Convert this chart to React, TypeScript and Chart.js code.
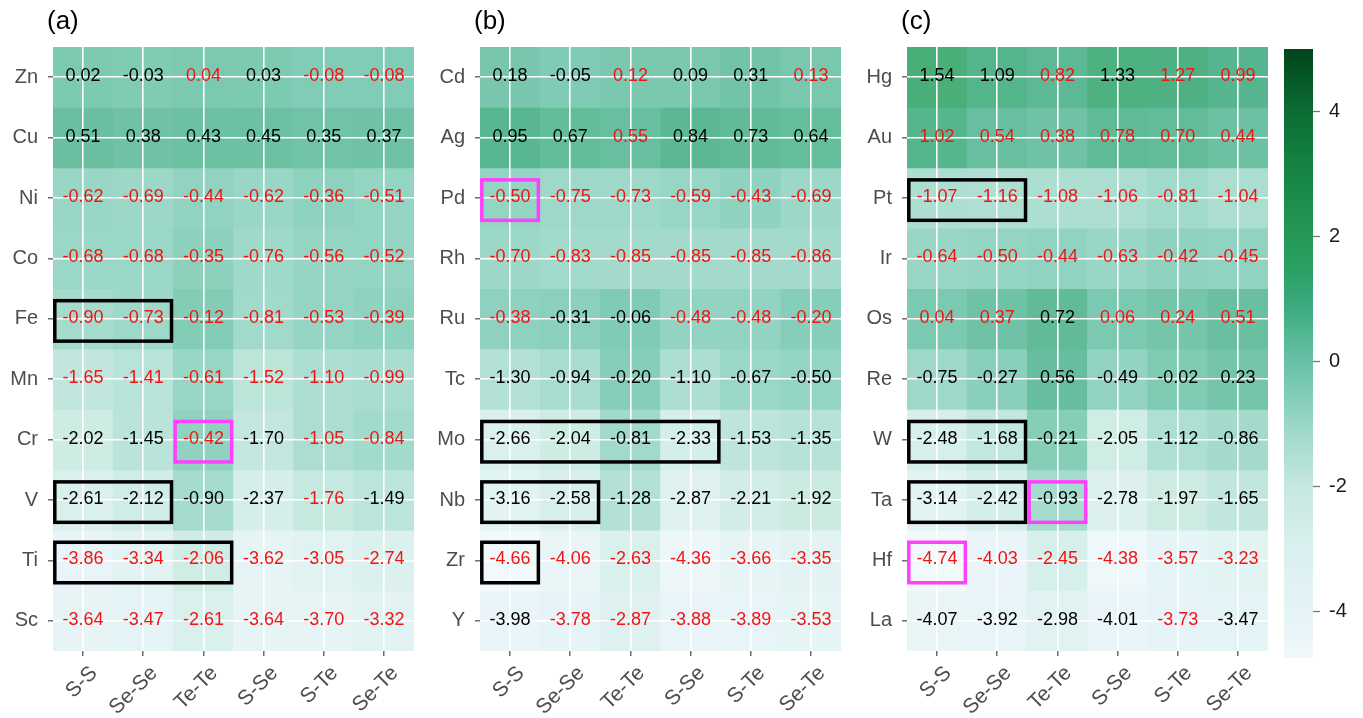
import { useEffect, useRef } from 'react';
import { Chart, registerables } from 'chart.js';

Chart.register(...registerables);
Chart.defaults.font.family = "'Liberation Sans', Arial, Helvetica, sans-serif";

// ---- data -------------------------------------------------------------
const pairs = ['S-S', 'Se-Se', 'Te-Te', 'S-Se', 'S-Te', 'Se-Te'];

const metals3d = ['Zn', 'Cu', 'Ni', 'Co', 'Fe', 'Mn', 'Cr', 'V', 'Ti', 'Sc'];
const values3d = [
  [0.02, -0.03, 0.04, 0.03, -0.08, -0.08],
  [0.51, 0.38, 0.43, 0.45, 0.35, 0.37],
  [-0.62, -0.69, -0.44, -0.62, -0.36, -0.51],
  [-0.68, -0.68, -0.35, -0.76, -0.56, -0.52],
  [-0.9, -0.73, -0.12, -0.81, -0.53, -0.39],
  [-1.65, -1.41, -0.61, -1.52, -1.1, -0.99],
  [-2.02, -1.45, -0.42, -1.7, -1.05, -0.84],
  [-2.61, -2.12, -0.9, -2.37, -1.76, -1.49],
  [-3.86, -3.34, -2.06, -3.62, -3.05, -2.74],
  [-3.64, -3.47, -2.61, -3.64, -3.7, -3.32],
];
// 1 = value printed in red
const red3d = [
  [0, 0, 1, 0, 1, 1],
  [0, 0, 0, 0, 0, 0],
  [1, 1, 1, 1, 1, 1],
  [1, 1, 1, 1, 1, 1],
  [1, 1, 1, 1, 1, 1],
  [1, 1, 1, 1, 1, 1],
  [0, 0, 1, 0, 1, 1],
  [0, 0, 0, 0, 1, 0],
  [1, 1, 1, 1, 1, 1],
  [1, 1, 1, 1, 1, 1],
];

const metals4d = ['Cd', 'Ag', 'Pd', 'Rh', 'Ru', 'Tc', 'Mo', 'Nb', 'Zr', 'Y'];
const values4d = [
  [0.18, -0.05, 0.12, 0.09, 0.31, 0.13],
  [0.95, 0.67, 0.55, 0.84, 0.73, 0.64],
  [-0.5, -0.75, -0.73, -0.59, -0.43, -0.69],
  [-0.7, -0.83, -0.85, -0.85, -0.85, -0.86],
  [-0.38, -0.31, -0.06, -0.48, -0.48, -0.2],
  [-1.3, -0.94, -0.2, -1.1, -0.67, -0.5],
  [-2.66, -2.04, -0.81, -2.33, -1.53, -1.35],
  [-3.16, -2.58, -1.28, -2.87, -2.21, -1.92],
  [-4.66, -4.06, -2.63, -4.36, -3.66, -3.35],
  [-3.98, -3.78, -2.87, -3.88, -3.89, -3.53],
];
const red4d = [
  [0, 0, 1, 0, 0, 1],
  [0, 0, 1, 0, 0, 0],
  [1, 1, 1, 1, 1, 1],
  [1, 1, 1, 1, 1, 1],
  [1, 0, 0, 1, 1, 1],
  [0, 0, 0, 0, 0, 0],
  [0, 0, 0, 0, 0, 0],
  [0, 0, 0, 0, 0, 0],
  [1, 1, 1, 1, 1, 1],
  [0, 1, 1, 1, 1, 1],
];

const metals5d = ['Hg', 'Au', 'Pt', 'Ir', 'Os', 'Re', 'W', 'Ta', 'Hf', 'La'];
const values5d = [
  [1.54, 1.09, 0.82, 1.33, 1.27, 0.99],
  [1.02, 0.54, 0.38, 0.78, 0.7, 0.44],
  [-1.07, -1.16, -1.08, -1.06, -0.81, -1.04],
  [-0.64, -0.5, -0.44, -0.63, -0.42, -0.45],
  [0.04, 0.37, 0.72, 0.06, 0.24, 0.51],
  [-0.75, -0.27, 0.56, -0.49, -0.02, 0.23],
  [-2.48, -1.68, -0.21, -2.05, -1.12, -0.86],
  [-3.14, -2.42, -0.93, -2.78, -1.97, -1.65],
  [-4.74, -4.03, -2.45, -4.38, -3.57, -3.23],
  [-4.07, -3.92, -2.98, -4.01, -3.73, -3.47],
];
const red5d = [
  [0, 0, 1, 0, 1, 1],
  [1, 1, 1, 1, 1, 1],
  [1, 1, 1, 1, 1, 1],
  [1, 1, 1, 1, 1, 1],
  [1, 1, 0, 1, 1, 1],
  [0, 0, 0, 0, 0, 0],
  [0, 0, 0, 0, 0, 0],
  [0, 0, 0, 0, 0, 0],
  [1, 1, 1, 1, 1, 1],
  [0, 0, 0, 0, 1, 0],
];

// Highlighted cells: row index, first and last pair index, frame colour
type Frame = { row: number; first: number; last: number; color: string };
const BLACK = '#000000';
const MAGENTA = '#ff40ff';
const frames3d: Frame[] = [
  { row: 4, first: 0, last: 1, color: BLACK },
  { row: 7, first: 0, last: 1, color: BLACK },
  { row: 8, first: 0, last: 2, color: BLACK },
  { row: 6, first: 2, last: 2, color: MAGENTA },
];
const frames4d: Frame[] = [
  { row: 6, first: 0, last: 3, color: BLACK },
  { row: 7, first: 0, last: 1, color: BLACK },
  { row: 8, first: 0, last: 0, color: BLACK },
  { row: 2, first: 0, last: 0, color: MAGENTA },
];
const frames5d: Frame[] = [
  { row: 2, first: 0, last: 1, color: BLACK },
  { row: 6, first: 0, last: 1, color: BLACK },
  { row: 7, first: 0, last: 1, color: BLACK },
  { row: 7, first: 2, last: 2, color: MAGENTA },
  { row: 8, first: 0, last: 0, color: MAGENTA },
];

// colour scale (BuGn-like) and its limits
const scaleMin = -4.74;
const scaleMax = 5;
const stopValues = [-4.74, -4, -3, -2, -1, 0, 1, 1.5, 2, 3, 4, 5];
const stopColors = [
  '#f0f8fa', '#e5f3f7', '#dbf0f0', '#c5e8df', '#9ad7c8', '#67c1a6',
  '#38a87a', '#2aa062', '#259858', '#168544', '#0b6d35', '#01441b',
];
const colorbarTicks = [-4, -2, 0, 2, 4];

// ---- helpers ----------------------------------------------------------
const RED_TEXT = '#f01414';
const AXIS_TEXT = '#4d4d4d';
const FONT = "'Liberation Sans', Arial, sans-serif";

function hexToRgb(h: string): number[] {
  return [1, 3, 5].map((i) => parseInt(h.slice(i, i + 2), 16));
}

function scaleRgb(v: number): number[] {
  const x = Math.max(scaleMin, Math.min(scaleMax, v));
  for (let i = 0; i < stopValues.length - 1; i++) {
    const a = stopValues[i];
    const b = stopValues[i + 1];
    if (x <= b) {
      const t = (x - a) / (b - a);
      const ca = hexToRgb(stopColors[i]);
      const cb = hexToRgb(stopColors[i + 1]);
      return ca.map((c, k) => c + (cb[k] - c) * t);
    }
  }
  return hexToRgb(stopColors[stopColors.length - 1]);
}

// tiles are drawn slightly washed out (15% white)
function tileColor(v: number): string {
  const rgb = scaleRgb(v).map((c) => Math.round(c * 0.85 + 255 * 0.15));
  return `rgb(${rgb[0]},${rgb[1]},${rgb[2]})`;
}

// ---- panel geometry ---------------------------------------------------
const PANEL_TOP = 47;
const PANEL_BOTTOM = 651;
const PANEL_WIDTH = 361;
const Y_AXIS_WIDTH = 53;
const CANVAS_W = 427;
const CANVAS_H = 718;

type PanelProps = {
  left: number;
  title: string;
  metals: string[];
  values: number[][];
  red: number[][];
  frames: Frame[];
};

function HeatPanel({ left, title, metals, values, red, frames }: PanelProps) {
  const ref = useRef<HTMLCanvasElement | null>(null);

  useEffect(() => {
    const canvas = ref.current;
    if (!canvas) return;

    const annotate = {
      id: 'cellAnnotations',
      afterDraw(chart: any) {
        const { ctx, chartArea } = chart;
        const xs = chart.scales.x;
        const ys = chart.scales.y;
        const cw = xs.getPixelForValue(1) - xs.getPixelForValue(0);
        const rh = ys.getPixelForValue(1) - ys.getPixelForValue(0);
        ctx.save();
        // values
        ctx.font = `18px ${FONT}`;
        ctx.textAlign = 'center';
        ctx.textBaseline = 'middle';
        values.forEach((row, r) => {
          row.forEach((v, c) => {
            ctx.fillStyle = red[r][c] ? RED_TEXT : '#000000';
            ctx.fillText(v.toFixed(2), xs.getPixelForValue(c), ys.getPixelForValue(r) - 1);
          });
        });
        // frames
        ctx.lineWidth = 3.5;
        frames.forEach((f) => {
          const x0 = xs.getPixelForValue(f.first) - 0.47 * cw;
          const x1 = xs.getPixelForValue(f.last) + 0.47 * cw;
          const yc = ys.getPixelForValue(f.row);
          const y0 = yc - 0.3 * rh;
          const y1 = yc + 0.37 * rh;
          ctx.strokeStyle = f.color;
          ctx.strokeRect(x0, y0, x1 - x0, y1 - y0);
        });
        // panel tag
        ctx.fillStyle = '#000000';
        ctx.font = `26px ${FONT}`;
        ctx.textAlign = 'left';
        ctx.textBaseline = 'alphabetic';
        ctx.fillText(title, chartArea.left - 6, 29);
        ctx.restore();
      },
    };

    const chart = new Chart(canvas, {
      type: 'bar',
      data: {
        labels: pairs,
        datasets: metals.map((m, r) => ({
          label: m,
          data: pairs.map(() => [r - 0.5, r + 0.5]),
          backgroundColor: values[r].map((v) => tileColor(v)),
          borderWidth: 0,
          barPercentage: 1,
          categoryPercentage: 1,
          grouped: false,
        })),
      } as any,
      options: {
        animation: false,
        responsive: false,
        events: [],
        layout: {
          padding: {
            top: PANEL_TOP,
            left: 0,
            right: CANVAS_W - Y_AXIS_WIDTH - PANEL_WIDTH,
            bottom: 0,
          },
        },
        plugins: {
          legend: { display: false },
          tooltip: { enabled: false },
          title: { display: false },
        },
        scales: {
          x: {
            type: 'category',
            offset: true,
            border: { display: false },
            grid: {
              offset: false,
              color: '#ffffff',
              lineWidth: 1.6,
              z: 1,
              drawTicks: true,
              tickLength: 5,
              tickColor: '#555555',
              tickWidth: 1.3,
            },
            ticks: {
              color: AXIS_TEXT,
              font: { size: 21 },
              minRotation: 45,
              maxRotation: 45,
              autoSkip: false,
              labelOffset: 11,
              padding: 5,
            },
            afterFit: (s: any) => {
              s.height = CANVAS_H - PANEL_BOTTOM;
              s.paddingLeft = 0;
              s.paddingRight = 0;
            },
          },
          y: {
            type: 'linear',
            reverse: true,
            min: -0.5,
            max: metals.length - 0.5,
            border: { display: false },
            afterBuildTicks: (s: any) => {
              s.ticks = metals.map((_, i) => ({ value: i }));
            },
            grid: {
              color: '#ffffff',
              lineWidth: 1.6,
              z: 1,
              drawTicks: true,
              tickLength: 5,
              tickColor: '#555555',
              tickWidth: 1.3,
            },
            ticks: {
              color: AXIS_TEXT,
              font: { size: 20 },
              padding: 10,
              autoSkip: false,
              callback: (v: any) => metals[Math.round(Number(v))] ?? '',
            },
            afterFit: (s: any) => {
              s.width = Y_AXIS_WIDTH;
            },
          },
        },
      } as any,
      plugins: [annotate],
    });

    return () => chart.destroy();
  }, [metals, values, red, frames, title]);

  return (
    <canvas
      ref={ref}
      width={CANVAS_W}
      height={CANVAS_H}
      style={{
        position: 'absolute',
        left: left - Y_AXIS_WIDTH,
        top: 0,
        width: CANVAS_W,
        height: CANVAS_H,
      }}
    />
  );
}

const CB_LEFT = 1270;
const CB_W = 93;

function ColorBar() {
  const ref = useRef<HTMLCanvasElement | null>(null);

  useEffect(() => {
    const canvas = ref.current;
    if (!canvas) return;

    const chart = new Chart(canvas, {
      type: 'bar',
      data: {
        labels: [''],
        datasets: [
          {
            data: [[scaleMin, scaleMax]],
            borderWidth: 0,
            barPercentage: 1,
            categoryPercentage: 1,
            backgroundColor: (c: any) => {
              const ch = c.chart;
              if (!ch.chartArea) return stopColors[0];
              const y = ch.scales.y;
              const g = ch.ctx.createLinearGradient(
                0,
                y.getPixelForValue(scaleMin),
                0,
                y.getPixelForValue(scaleMax),
              );
              stopValues.forEach((v, i) => {
                g.addColorStop((v - scaleMin) / (scaleMax - scaleMin), stopColors[i]);
              });
              return g;
            },
          },
        ],
      } as any,
      options: {
        animation: false,
        responsive: false,
        events: [],
        layout: { padding: { top: 49, bottom: 60, left: 14, right: 0 } },
        plugins: { legend: { display: false }, tooltip: { enabled: false } },
        scales: {
          x: { display: false, offset: true },
          y: {
            position: 'right',
            min: scaleMin,
            max: scaleMax,
            border: { display: false },
            afterBuildTicks: (s: any) => {
              s.ticks = colorbarTicks.map((v) => ({ value: v }));
            },
            grid: {
              drawOnChartArea: false,
              drawTicks: true,
              tickLength: 7,
              tickColor: '#777777',
              tickWidth: 1.3,
            },
            ticks: {
              color: '#1a1a1a',
              font: { size: 20 },
              padding: 9,
            },
            afterFit: (s: any) => {
              s.width = CB_W - 14 - 29;
            },
          },
        },
      } as any,
    });

    return () => chart.destroy();
  }, []);

  return (
    <canvas
      ref={ref}
      width={CB_W}
      height={CANVAS_H}
      style={{ position: 'absolute', left: CB_LEFT, top: 0, width: CB_W, height: CANVAS_H }}
    />
  );
}

export default function App() {
  return (
    <div
      style={{
        position: 'fixed',
        left: 0,
        top: 0,
        width: 1363,
        height: 718,
        background: '#ffffff',
        overflow: 'hidden',
      }}
    >
      <HeatPanel left={53} title="(a)" metals={metals3d} values={values3d} red={red3d} frames={frames3d} />
      <HeatPanel left={480} title="(b)" metals={metals4d} values={values4d} red={red4d} frames={frames4d} />
      <HeatPanel left={907} title="(c)" metals={metals5d} values={values5d} red={red5d} frames={frames5d} />
      <ColorBar />
    </div>
  );
}
